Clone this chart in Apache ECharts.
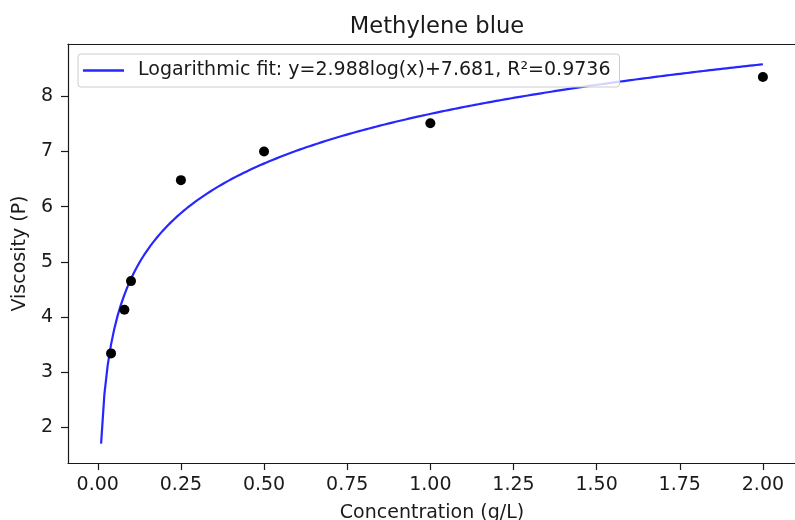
<!DOCTYPE html>
<html>
<head>
<meta charset="utf-8">
<script src="https://cdn.jsdelivr.net/npm/echarts@6/dist/echarts.min.js"></script>
<style>
  html, body { margin: 0; padding: 0; background: #fff; }
  #chart { width: 795px; height: 520px; }
</style>
</head>
<body>
<div id="chart"></div>
<script>
// Measured samples: concentration (g/L) and viscosity (P)
const concentration = [0.04, 0.08, 0.1, 0.25, 0.5, 1.0, 2.0];
const viscosity = [3.34, 4.13, 4.65, 6.48, 7.0, 7.51, 8.35];

// Logarithmic fit coefficients: y = a*log10(x) + b
const fitA = 2.988;
const fitB = 7.681;
const fitR2 = 0.9736;
const fitRange = [0.01, 2.0];

const xTicks = [0, 0.25, 0.5, 0.75, 1.0, 1.25, 1.5, 1.75, 2.0];
const yTicks = [2, 3, 4, 5, 6, 7, 8];

const fitName = 'Logarithmic fit: y=' + fitA.toFixed(3) + 'log(x)+' + fitB.toFixed(3) + ', R\u00b2=' + fitR2.toFixed(4);

// Sample the fitted curve across the concentration range
const fitPoints = [];
const steps = 200;
for (let i = 0; i <= steps; i++) {
  const x = fitRange[0] + (fitRange[1] - fitRange[0]) * i / steps;
  fitPoints.push([x, fitA * Math.log10(x) + fitB]);
}

const font = 'DejaVu Sans';
const ink = '#1a1a1a';
const fitColor = 'rgba(0,0,255,0.85)';
const xMin = -0.0895;
const xMax = 2.0995;
const chart = echarts.init(document.getElementById('chart'), null, { renderer: 'canvas' });

chart.setOption({
  animation: false,
  backgroundColor: '#ffffff',
  title: {
    text: 'Methylene blue',
    left: 432,
    textAlign: 'center',
    top: 11,
    textStyle: { fontFamily: font, fontSize: 22.6, fontWeight: 'normal', color: ink }
  },
  legend: {
    data: [{ name: fitName, icon: 'rect' }],
    left: 78,
    top: 54,
    padding: [7, 9, 7, 5],
    itemWidth: 41,
    itemHeight: 2.5,
    backgroundColor: 'rgba(255,255,255,0.8)',
    borderColor: '#cccccc',
    borderWidth: 1,
    borderRadius: 3,
    textStyle: { fontFamily: font, fontSize: 19, color: ink, padding: [0, 0, 0, 9] }
  },
  grid: {
    left: 68,
    top: 44,
    right: -1,
    bottom: 57,
    show: false,
    containLabel: false,
    outerBoundsMode: 'none'
  },
  xAxis: [
    {
      type: 'value',
      position: 'bottom',
      min: xMin,
      max: xMax,
      name: 'Concentration (g/L)',
      nameLocation: 'middle',
      nameGap: 41,
      nameTextStyle: { fontFamily: font, fontSize: 19, color: ink },
      splitLine: { show: false },
      axisLine: { show: true, onZero: false, lineStyle: { color: ink, width: 1.2 } },
      axisTick: { show: true, length: 7, customValues: xTicks, lineStyle: { color: ink, width: 1.2 } },
      axisLabel: {
        customValues: xTicks,
        margin: 13,
        fontFamily: font, fontSize: 19, color: ink,
        formatter: v => v.toFixed(2)
      }
    },
    {
      // top frame line only
      type: 'value',
      position: 'top',
      min: xMin,
      max: xMax,
      splitLine: { show: false },
      axisLine: { show: true, onZero: false, lineStyle: { color: ink, width: 1.2 } },
      axisTick: { show: false },
      axisLabel: { show: false }
    }
  ],
  yAxis: {
    type: 'value',
    min: 1.353,
    max: 8.948,
    name: 'Viscosity (P)',
    nameLocation: 'middle',
    nameGap: 34,
    nameTextStyle: { fontFamily: font, fontSize: 19, color: ink },
    splitLine: { show: false },
    axisLine: { show: true, onZero: false, lineStyle: { color: ink, width: 1.2 } },
    axisTick: { show: true, length: 7, customValues: yTicks, lineStyle: { color: ink, width: 1.2 } },
    axisLabel: {
      customValues: yTicks,
      margin: 15,
      fontFamily: font, fontSize: 19, color: ink,
      formatter: v => String(v)
    }
  },
  series: [
    {
      name: fitName,
      type: 'line',
      xAxisIndex: 0,
      data: fitPoints,
      symbol: 'none',
      smooth: false,
      lineStyle: { color: fitColor, width: 2.2 },
      itemStyle: { color: fitColor },
      z: 2
    },
    {
      name: 'Samples',
      type: 'scatter',
      xAxisIndex: 0,
      data: concentration.map((c, i) => [c, viscosity[i]]),
      symbol: 'circle',
      symbolSize: 10,
      itemStyle: { color: '#000000', opacity: 1 },
      z: 3
    }
  ]
});
</script>
</body>
</html>
